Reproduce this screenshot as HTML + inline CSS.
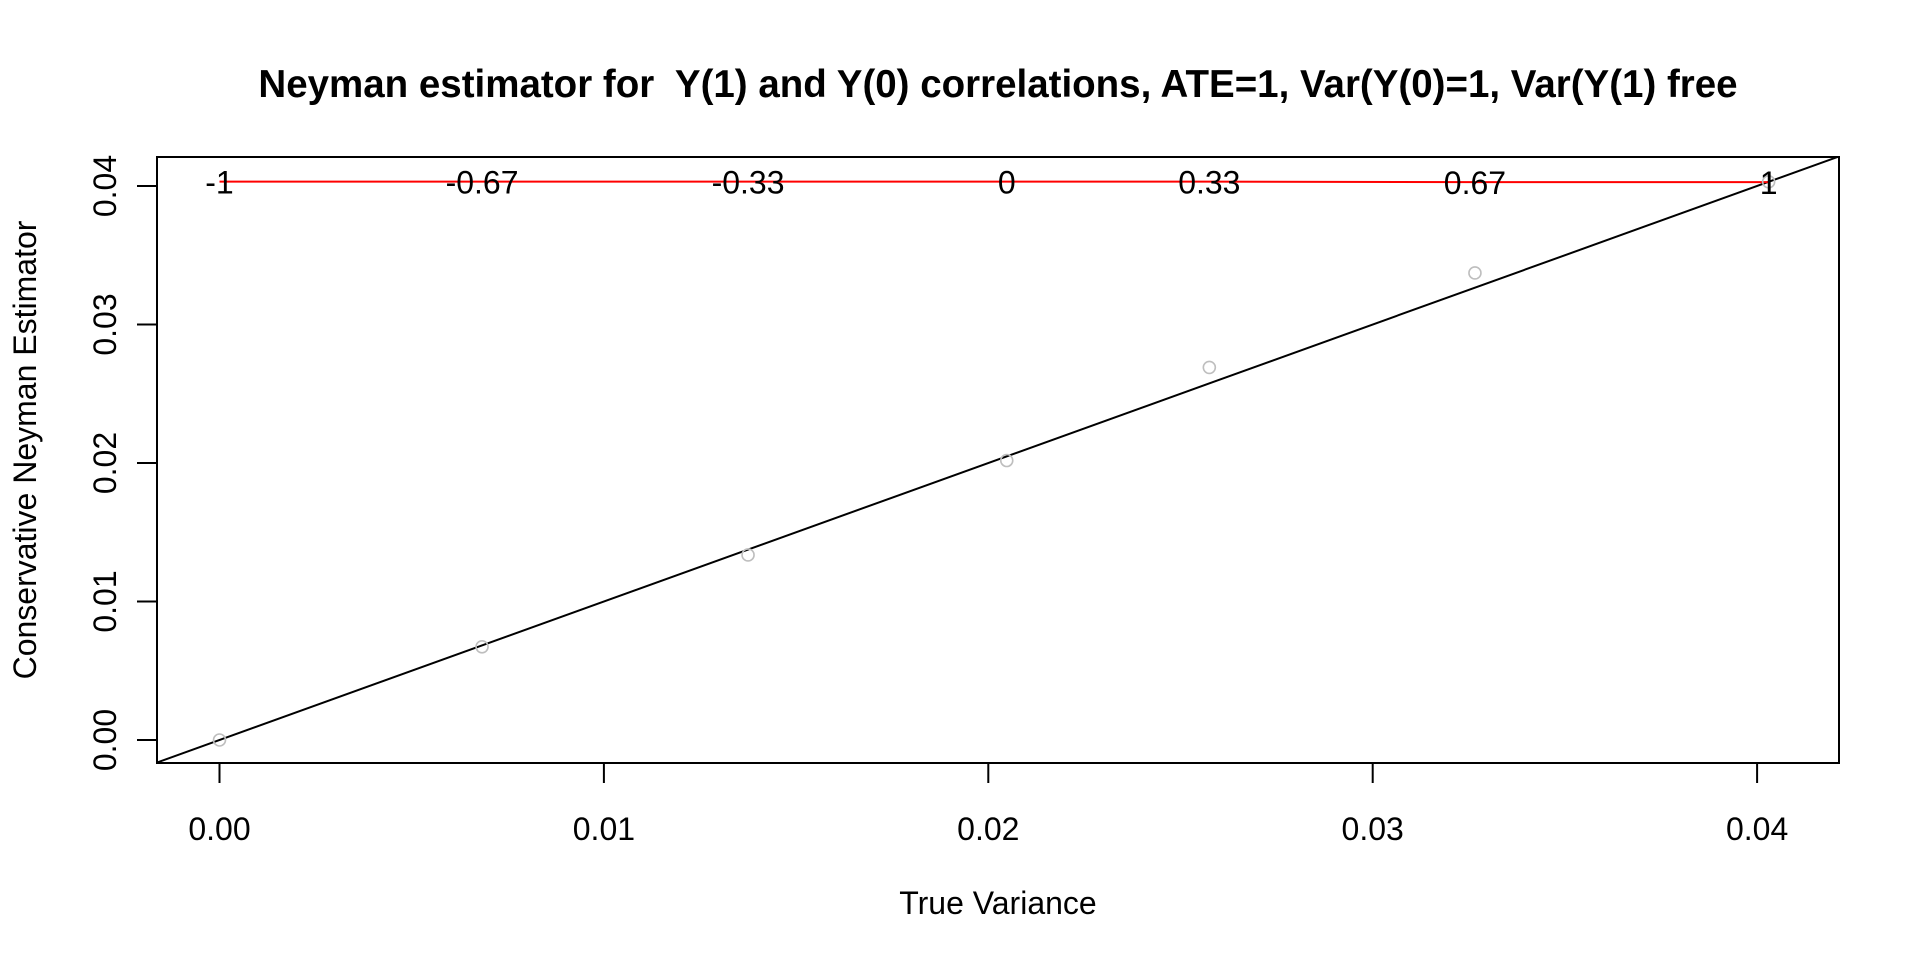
<!DOCTYPE html>
<html><head><meta charset="utf-8"><style>
html,body{margin:0;padding:0;background:#fff;}
svg{display:block;font-family:"Liberation Sans",Arial,sans-serif;}
</style></head><body>
<svg id="chart" width="1920" height="960" viewBox="0 0 1920 960">
<text x="998" y="97" text-anchor="middle" font-size="38.5" font-weight="bold" style="white-space:pre">Neyman estimator for  Y(1) and Y(0) correlations, ATE=1, Var(Y(0)=1, Var(Y(1) free</text>
<text x="998" y="914" text-anchor="middle" font-size="32">True Variance</text>
<text transform="translate(36,450) rotate(-90)" text-anchor="middle" font-size="32">Conservative Neyman Estimator</text>
<defs><clipPath id="pc"><rect x="157" y="157" width="1682" height="606"/></clipPath></defs>
<g id="marks"></g>
<rect x="157" y="157" width="1682" height="606" fill="none" stroke="#000" stroke-width="2"/>
</svg>
<script>
const xVals=[0,0.00683,0.01375,0.02048,0.02575,0.03266,0.04030];
const yVals=[0,0.00673,0.01336,0.02018,0.02690,0.03372,0.0403];
const redY=[0.04032,0.04032,0.04032,0.04032,0.04032,0.04028,0.04028];
const corrLabels=["-1","-0.67","-0.33","0","0.33","0.67","1"];
const xTicks=[0,0.01,0.02,0.03,0.04];
const yTicks=[0,0.01,0.02,0.03,0.04];
const xTickLabels=["0.00","0.01","0.02","0.03","0.04"];
const yTickLabels=["0.00","0.01","0.02","0.03","0.04"];
const NS="http://www.w3.org/2000/svg";
const X=v=>219.5+v*38440;
const Y=v=>740-v*13850;
const g=document.getElementById('marks');
function mk(t,a,p){const e=document.createElementNS(NS,t);for(const k in a)e.setAttribute(k,a[k]);(p||g).appendChild(e);return e;}
const clipG=mk('g',{'clip-path':'url(#pc)'});


const d=mk('line',{x1:X(-0.01),y1:Y(-0.01),x2:X(0.06),y2:Y(0.06),stroke:'#000','stroke-width':2},clipG);


let pts=xVals.map((x,i)=>X(x)+','+Y(redY[i])).join(' ');
const rl=mk('polyline',{points:pts,fill:'none',stroke:'#f00','stroke-width':2},clipG);


xVals.forEach((x,i)=>{
 const c=mk('circle',{cx:X(x),cy:Y(yVals[i]),r:6,fill:'none',stroke:'#bebebe','stroke-width':1.6},clipG);
 
 
 const t=mk('text',{x:X(x),y:Y(redY[i])+12,'text-anchor':'middle','font-size':32},clipG);
 t.textContent=corrLabels[i];
 
 
});
xTicks.forEach((v,i)=>{
 const l=mk('line',{x1:X(v),y1:763,x2:X(v),y2:783,stroke:'#000','stroke-width':2});
 
 
 const t=mk('text',{x:X(v),y:840,'text-anchor':'middle','font-size':32});
 t.textContent=xTickLabels[i];
 
 
});
yTicks.forEach((v,i)=>{
 const l=mk('line',{x1:137,y1:Y(v),x2:157,y2:Y(v),stroke:'#000','stroke-width':2});
 
 
 const t=mk('text',{transform:`translate(116,${Y(v)}) rotate(-90)`,'text-anchor':'middle','font-size':32});
 t.textContent=yTickLabels[i];
 
 
});
</script>
</body></html>
